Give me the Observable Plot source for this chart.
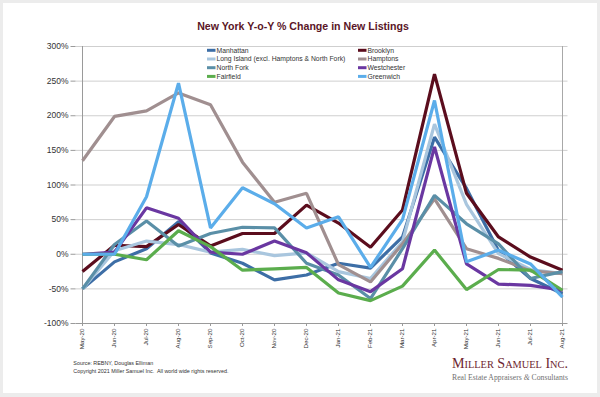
<!DOCTYPE html>
<html>
<head>
<meta charset="utf-8">
<script src="https://cdn.jsdelivr.net/npm/d3@7"></script>
<script src="https://cdn.jsdelivr.net/npm/@observablehq/plot@0.6"></script>
<style>
  html, body { margin: 0; padding: 0; background: #ececec; }
  #chart { width: 600px; height: 397px; }
  svg { display: block; }
</style>
</head>
<body>
<div id="chart"></div>
<script>
// ---- data ----
const months = ["May-20","Jun-20","Jul-20","Aug-20","Sep-20","Oct-20","Nov-20","Dec-20","Jan-21","Feb-21","Mar-21","Apr-21","May-21","Jun-21","Jul-21","Aug-21"];
const yTicks = [-100, -50, 0, 50, 100, 150, 200, 250, 300];

const seriesNames = ["Manhattan", "Brooklyn", "Long Island (excl. Hamptons & North Fork)", "Hamptons", "North Fork", "Westchester", "Fairfield", "Greenwich"];
const seriesColors = ["#3d6ea6", "#5b0d1d", "#a9c6de", "#a08f90", "#5a8fa7", "#6a37a1", "#5bad4d", "#5badea"];

const manhattan   = [-50, -11,   8,  47,   2, -13, -37, -30, -13, -20,  25, 169,  95,   5, -35, -57];
const brooklyn    = [-25,  13,  11,  43,  12,  30,  30,  71,  45,  10,  64, 260,  88,  25,  -4, -23];
const longIsland  = [-50,   5,  19,  14,   3,   7,  -2,   2, -25, -35,  18, 188,  72,   1, -22, -28];
const hamptons    = [135, 199, 207, 233, 216, 133,  75,  88, -15, -40,  15,  80,   8,  -6, -24, -28];
const northFork   = [-50,  14,  48,  12,  30,  39,  38, -13, -30, -64,   8,  85,  44,  15, -35, -25];
const westchester = [  0,   3,  67,  52,   3,   0,  19,   2, -37, -54, -21, 155, -14, -43, -45, -52];
const fairfield   = [  0,   0,  -8,  34,  11, -23, -21, -19, -56, -67, -46,   6, -51, -22, -23, -52];
const greenwich   = [  0,   0,  83, 247,  38,  96,  73,  38,  54, -19,  50, 222, -11,   6, -14, -62];

const seriesValues = [manhattan, brooklyn, longIsland, hamptons, northFork, westchester, fairfield, greenwich];

const rows = seriesNames.flatMap((name, k) =>
  seriesValues[k].map((v, i) => ({series: name, month: months[i], value: v}))
);

const W = 600, H = 397;
const chart = Plot.plot({
  width: W, height: H,
  marginLeft: 75.5, marginRight: 32.5, marginTop: 46, marginBottom: 74,
  style: {background: "transparent", fontFamily: "'Liberation Sans', Arial, sans-serif", color: "#333"},
  x: {type: "point", domain: months, padding: 0},
  y: {domain: [-100, 300]},
  color: {domain: seriesNames, range: seriesColors},
  marks: [
    Plot.ruleY(yTicks.slice(1), {stroke: "#cfcfcf", strokeWidth: 1}),
    Plot.ruleY([-100], {stroke: "#9a9a9a", strokeWidth: 1}),
    Plot.ruleX([months[0]], {stroke: "#9a9a9a", strokeWidth: 1}),
    Plot.ruleX([months[months.length - 1]], {stroke: "#a8a8a8", strokeWidth: 1}),
    Plot.axisY({ticks: yTicks, tickFormat: d => d + "%", tickSize: 5, tickPadding: 2.5, fontSize: 8.5, stroke: "#9a9a9a", fill: "#333", label: null}),
    Plot.axisX({tickRotate: -90, tickSize: 3, tickPadding: 2, fontSize: 6.2, stroke: "#9a9a9a", fill: "#333", label: null}),
    Plot.line(rows, {x: "month", y: "value", stroke: "series", z: "series", strokeWidth: 3.2, strokeLinejoin: "miter", strokeLinecap: "butt"})
  ]
});

const svg = d3.select(chart);
// white card behind everything
svg.insert("rect", ":first-child")
  .attr("x", 3).attr("y", 3).attr("width", 594).attr("height", 390)
  .attr("fill", "#ffffff");

// title
svg.append("text")
  .attr("x", 303).attr("y", 30)
  .attr("text-anchor", "middle")
  .attr("font-family", "'Liberation Sans', Arial, sans-serif")
  .attr("font-weight", "bold").attr("font-size", 10.6)
  .attr("fill", "#5a1526")
  .text("New York Y-o-Y % Change in New Listings");

// legend
const legend = svg.append("g")
  .attr("text-anchor", "start")
  .attr("font-family", "'Liberation Sans', Arial, sans-serif").attr("font-size", 6.8).attr("fill", "#333");
seriesNames.forEach((name, i) => {
  const col = i % 2, row = Math.floor(i / 2);
  const x0 = col === 0 ? 207 : 358;
  const yc = 50.3 + row * 8.7;
  legend.append("line")
    .attr("x1", x0).attr("x2", x0 + 8.5).attr("y1", yc).attr("y2", yc)
    .attr("stroke", seriesColors[i]).attr("stroke-width", 3);
  legend.append("text")
    .attr("x", x0 + 9.5).attr("y", yc + 2.4)
    .text(name);
});

// source lines
const src = svg.append("g")
  .attr("text-anchor", "start")
  .attr("font-family", "'Liberation Sans', Arial, sans-serif").attr("font-size", 5.4).attr("fill", "#333");
src.append("text").attr("x", 73.3).attr("y", 364.8).text("Source: REBNY, Douglas Elliman");
src.append("text").attr("x", 73.3).attr("y", 372.8).text("Copyright 2021 Miller Samuel Inc.  All world wide rights reserved.");

// logo
svg.append("text")
  .attr("x", 452).attr("y", 368.3)
  .attr("text-anchor", "start")
  .attr("font-family", "'Liberation Serif', 'Times New Roman', serif")
  .attr("font-size", 15).attr("font-variant", "small-caps")
  .attr("fill", "#6e1f2f")
  .attr("textLength", 116).attr("lengthAdjust", "spacingAndGlyphs")
  .text("Miller Samuel Inc.");
const tag = svg.append("text")
  .attr("x", 452).attr("y", 380)
  .attr("text-anchor", "start")
  .attr("font-family", "'Liberation Serif', 'Times New Roman', serif")
  .attr("font-size", 7.6)
  .attr("fill", "#707070")
  .attr("textLength", 116).attr("lengthAdjust", "spacingAndGlyphs");
tag.append("tspan").text("Real Estate Appraisers ");
tag.append("tspan").attr("font-style", "italic").text("&");
tag.append("tspan").text(" Consultants");

document.getElementById("chart").appendChild(chart);
</script>
</body>
</html>
